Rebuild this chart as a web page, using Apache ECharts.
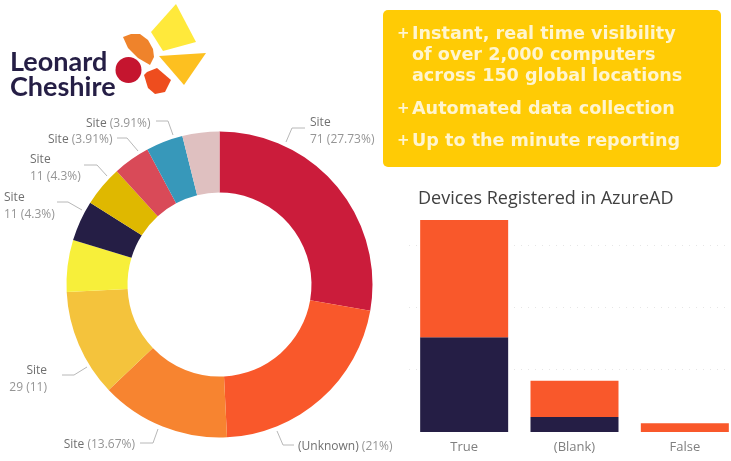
<!DOCTYPE html>
<html lang="en">
<head>
    <meta charset="utf-8">
    <title>Devices</title>
    <script src="https://cdn.jsdelivr.net/npm/echarts@6/dist/echarts.min.js"></script>
    <style type="text/css">
        html, body { margin: 0; padding: 0; background: #fff; }
        #main { width: 731px; height: 461px; }
    </style>
</head>
<body>
<div id="main"></div>
<script type="text/javascript">
    // donut data, in device counts (total 256)
    var siteNames = ['Site', '(Unknown)', 'Site', 'Site', 'Site', 'Site', 'Site', 'Site', 'Site', 'Site'];
    var siteValues = [71, 55, 35, 29, 14, 11, 11, 10, 10, 10];
    var siteLabels = [
        '{n|Site}\n{p|71 (27.73%)}',
        '{n|(Unknown)} {p|(21%)}',
        '{n|Site} {p|(13.67%)}',
        '{n|Site}\n{p|29 (11)}',
        '',
        '{n|Site}\n{p|11 (4.3%)}',
        '{n|Site}\n{p|11 (4.3%)}',
        '{n|Site} {p|(3.91%)}',
        '{n|Site} {p|(3.91%)}',
        ''
    ];

    // bar data
    var azureCategories = ['True', '(Blank)', 'False'];
    var azureNavy = [76, 12, 0];
    var azureOrange = [94, 29, 7];

    var siteColors = ['#cb1c3b', '#f9582b', '#f78430', '#f4c33c', '#f7ef3a', '#251e45', '#dfb800', '#d94a58', '#3798ba', '#dfc0c0'];

    // where the pie labels sit: text x, y, align, then the leader line
    var labelPlaces = [
        {x: 310, y: 131, align: 'left', line: [[286, 142], [292, 128], [305, 128]]},
        {x: 298, y: 447, align: 'left', line: [[277, 431], [283, 445], [294, 445]]},
        {x: 135, y: 445, align: 'right', line: [[158, 429], [153, 443], [140, 443]]},
        {x: 47, y: 379, align: 'right', line: [[87, 367], [74, 375], [62, 375]]},
        null,
        {x: 4, y: 206, align: 'left', line: [[82, 210], [68, 202], [57, 202]]},
        {x: 30, y: 168, align: 'left', line: [[107, 176], [97, 165], [84, 165]]},
        {x: 48, y: 140, align: 'left', line: [[138, 151], [127, 138], [117, 138]]},
        {x: 86, y: 124, align: 'left', line: [[173, 135], [168, 121], [156, 121]]},
        null
    ];

    var myChart = echarts.init(document.getElementById('main'), null, {renderer: 'canvas'});

    var pieData = [];
    for (var i = 0; i < siteValues.length; i++) {
        pieData.push({
            name: siteNames[i],
            value: siteValues[i],
            itemStyle: {color: siteColors[i]},
            label: {show: siteLabels[i] !== '', formatter: siteLabels[i]},
            labelLine: {show: siteLabels[i] !== ''}
        });
    }

    var panelFont = '800 17.6px "DejaVu Sans"';
    var plusFont = '800 15px "DejaVu Sans"';
    var panelColor = '#fff5cf';

    var option = {
        animation: false,
        backgroundColor: '#fff',
        title: {
            text: 'Devices Registered in AzureAD',
            left: 418,
            top: 190,
            padding: 0,
            textStyle: {fontFamily: 'Open Sans', fontSize: 18, fontWeight: 'normal', color: '#404040'}
        },
        grid: {left: 409, top: 220, width: 331, height: 212, outerBoundsMode: 'none'},
        xAxis: {
            type: 'category',
            data: azureCategories,
            axisLine: {show: false},
            axisTick: {show: false},
            axisLabel: {fontFamily: 'Open Sans', fontSize: 13, color: '#808080', margin: 9}
        },
        yAxis: {
            type: 'value',
            min: 0,
            max: 170,
            interval: 50,
            axisLabel: {show: false},
            axisLine: {show: false},
            axisTick: {show: false},
            splitLine: {showMaxLine: false, showMinLine: false, lineStyle: {color: '#e6e6e6', type: [1, 6], width: 1}}
        },
        series: [{
            name: 'Site',
            type: 'pie',
            center: [219.5, 284.5],
            radius: [92, 153],
            startAngle: 90,
            clockwise: true,
            silent: true,
            data: pieData,
            label: {
                position: 'outside',
                overflow: 'none',
                fontFamily: 'Open Sans',
                fontSize: 12,
                lineHeight: 17,
                rich: {
                    n: {fontFamily: 'Open Sans', fontSize: 12, lineHeight: 17, color: '#707070'},
                    p: {fontFamily: 'Open Sans', fontSize: 12, lineHeight: 17, color: '#959595'}
                }
            },
            labelLine: {lineStyle: {color: '#b8b8b8', width: 1}},
            labelLayout: function (params) {
                var p = labelPlaces[params.dataIndex];
                if (!p) {
                    return {};
                }
                return {x: p.x, y: p.y, align: p.align, verticalAlign: 'middle', labelLinePoints: p.line};
            }
        }, {
            name: 'Navy',
            type: 'bar',
            stack: 'azure',
            barWidth: 88,
            data: azureNavy,
            itemStyle: {color: '#251e45'}
        }, {
            name: 'Orange',
            type: 'bar',
            stack: 'azure',
            barWidth: 88,
            data: azureOrange,
            itemStyle: {color: '#f9582b'}
        }],
        graphic: [
            // yellow panel
            {type: 'rect', shape: {x: 383, y: 10, width: 338, height: 157, r: 5}, style: {fill: '#ffcb05'}},
            {type: 'text', x: 397, y: 34, style: {text: '+', fill: panelColor, font: plusFont, verticalAlign: 'middle'}},
            {type: 'text', x: 412, y: 34, style: {text: 'Instant, real time visibility', fill: panelColor, font: panelFont, verticalAlign: 'middle'}},
            {type: 'text', x: 412, y: 55, style: {text: 'of over 2,000 computers', fill: panelColor, font: panelFont, verticalAlign: 'middle'}},
            {type: 'text', x: 412, y: 76, style: {text: 'across 150 global locations', fill: panelColor, font: panelFont, verticalAlign: 'middle'}},
            {type: 'text', x: 397, y: 109, style: {text: '+', fill: panelColor, font: plusFont, verticalAlign: 'middle'}},
            {type: 'text', x: 412, y: 109, style: {text: 'Automated data collection', fill: panelColor, font: panelFont, verticalAlign: 'middle'}},
            {type: 'text', x: 397, y: 141, style: {text: '+', fill: panelColor, font: plusFont, verticalAlign: 'middle'}},
            {type: 'text', x: 412, y: 141, style: {text: 'Up to the minute reporting', fill: panelColor, font: panelFont, verticalAlign: 'middle'}},
            // logo
            {type: 'text', x: 10, y: 62, style: {text: 'Leonard', fill: '#251e45', font: '700 27px Lato', verticalAlign: 'middle'}},
            {type: 'text', x: 10, y: 87, style: {text: 'Cheshire', fill: '#251e45', font: '700 27px Lato', verticalAlign: 'middle'}},
            {type: 'polygon', shape: {points: [[176, 4], [196, 42], [163, 51], [151, 32]]}, style: {fill: '#ffe93b'}},
            {type: 'polygon', shape: {points: [[159, 56], [206, 53], [184, 85]]}, style: {fill: '#fdc020'}},
            {type: 'polygon', shape: {points: [[123, 37], [131, 34], [140, 34], [148, 40], [153, 49], [154, 57], [150, 65], [138, 58], [128, 48]]}, style: {fill: '#ef832b'}},
            {type: 'circle', shape: {cx: 128.5, cy: 70, r: 13}, style: {fill: '#c5152f'}},
            {type: 'polygon', shape: {points: [[157, 68], [171, 80], [165, 92], [155, 94], [148, 88], [144, 75], [147, 72]]}, style: {fill: '#ee4d1e'}}
        ]
    };
    myChart.setOption(option);
</script>
</body>
</html>
